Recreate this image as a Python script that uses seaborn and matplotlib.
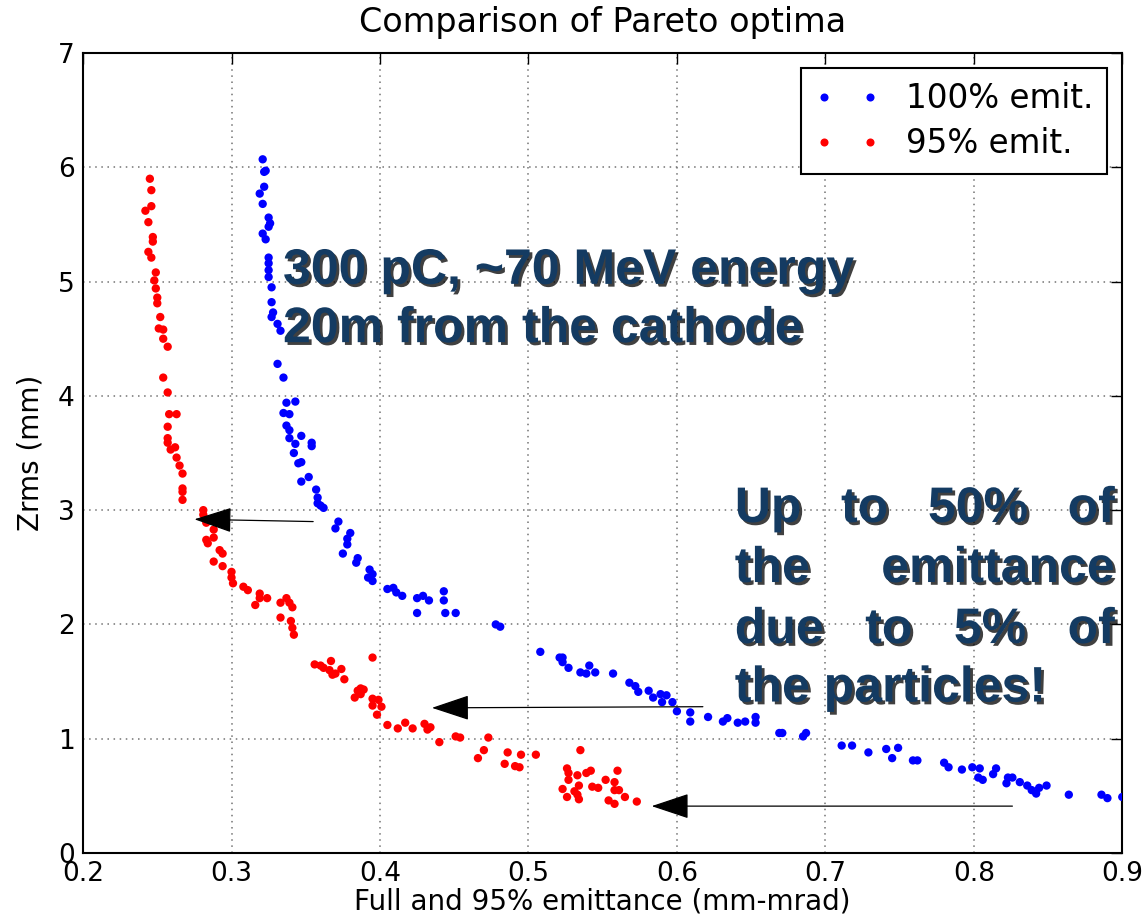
import matplotlib
matplotlib.use("Agg")
import matplotlib.pyplot as plt
import matplotlib.patheffects as pe
from matplotlib.lines import Line2D
import pandas as pd
import seaborn as sns

# Pareto front: full (100%) emittance vs bunch length
full_emit = [0.321, 0.322, 0.323, 0.322, 0.319, 0.321, 0.325, 0.326, 0.325, 0.321,
             0.323, 0.325, 0.325, 0.325, 0.325, 0.327, 0.327, 0.328, 0.327, 0.331,
             0.333, 0.331, 0.335, 0.337, 0.343, 0.335, 0.339, 0.337, 0.339, 0.339,
             0.347, 0.343, 0.354, 0.354, 0.342, 0.345, 0.347, 0.352, 0.347, 0.357,
             0.358, 0.358, 0.360, 0.362, 0.372, 0.370, 0.380, 0.378, 0.378, 0.375,
             0.385, 0.384, 0.393, 0.395, 0.392, 0.395, 0.405, 0.409, 0.411, 0.415,
             0.425, 0.429, 0.433, 0.443, 0.443, 0.425, 0.444, 0.451, 0.478, 0.481,
             0.508, 0.521, 0.523, 0.523, 0.527, 0.535, 0.539, 0.541, 0.545, 0.557,
             0.568, 0.572, 0.574, 0.581, 0.584, 0.589, 0.590, 0.593, 0.597, 0.600,
             0.609, 0.609, 0.621, 0.631, 0.634, 0.641, 0.646, 0.653, 0.653, 0.669,
             0.671, 0.685, 0.687, 0.711, 0.718, 0.729, 0.741, 0.749, 0.745, 0.759,
             0.762, 0.780, 0.783, 0.792, 0.799, 0.804, 0.803, 0.806, 0.813, 0.815,
             0.823, 0.826, 0.822, 0.831, 0.836, 0.839, 0.842, 0.844, 0.849, 0.864,
             0.886, 0.890, 0.900]
full_zrms = [6.07, 5.96, 5.97, 5.83, 5.77, 5.68, 5.56, 5.51, 5.48, 5.42,
             5.37, 5.21, 5.16, 5.10, 5.04, 4.95, 4.82, 4.73, 4.69, 4.63,
             4.57, 4.28, 4.16, 3.94, 3.95, 3.85, 3.84, 3.74, 3.70, 3.63,
             3.65, 3.58, 3.59, 3.56, 3.50, 3.41, 3.42, 3.29, 3.25, 3.18,
             3.11, 3.06, 3.04, 3.02, 2.90, 2.84, 2.80, 2.75, 2.70, 2.62,
             2.58, 2.54, 2.48, 2.44, 2.41, 2.38, 2.31, 2.32, 2.28, 2.25,
             2.23, 2.25, 2.21, 2.29, 2.21, 2.10, 2.10, 2.10, 2.00, 1.98,
             1.76, 1.71, 1.71, 1.67, 1.62, 1.58, 1.57, 1.64, 1.58, 1.57,
             1.49, 1.46, 1.41, 1.42, 1.36, 1.39, 1.32, 1.38, 1.32, 1.24,
             1.23, 1.15, 1.19, 1.15, 1.18, 1.14, 1.15, 1.19, 1.14, 1.05,
             1.05, 1.02, 1.05, 0.94, 0.94, 0.88, 0.91, 0.92, 0.83, 0.81,
             0.81, 0.79, 0.75, 0.73, 0.75, 0.74, 0.66, 0.64, 0.69, 0.74,
             0.66, 0.66, 0.61, 0.62, 0.59, 0.55, 0.52, 0.57, 0.59, 0.51,
             0.51, 0.48, 0.49]

# Pareto front: 95% emittance vs bunch length
core_emit = [0.245, 0.246, 0.246, 0.242, 0.244, 0.247, 0.247, 0.244, 0.246, 0.249,
             0.248, 0.249, 0.250, 0.250, 0.252, 0.251, 0.254, 0.254, 0.257, 0.254,
             0.257, 0.258, 0.263, 0.257, 0.257, 0.257, 0.262, 0.259, 0.263, 0.265,
             0.267, 0.267, 0.267, 0.267, 0.281, 0.281, 0.283, 0.288, 0.288, 0.283,
             0.284, 0.292, 0.294, 0.288, 0.294, 0.300, 0.300, 0.301, 0.308, 0.311,
             0.319, 0.319, 0.324, 0.316, 0.333, 0.337, 0.339, 0.341, 0.333, 0.340,
             0.341, 0.342, 0.356, 0.360, 0.367, 0.362, 0.366, 0.368, 0.370, 0.374,
             0.376, 0.385, 0.387, 0.389, 0.383, 0.387, 0.395, 0.395, 0.395, 0.399,
             0.401, 0.398, 0.405, 0.412, 0.417, 0.422, 0.430, 0.434, 0.432, 0.440,
             0.451, 0.454, 0.473, 0.470, 0.466, 0.486, 0.495, 0.505, 0.484, 0.491,
             0.494, 0.535, 0.526, 0.527, 0.533, 0.539, 0.542, 0.560, 0.527, 0.534,
             0.523, 0.531, 0.533, 0.526, 0.534, 0.543, 0.547, 0.552, 0.558, 0.558,
             0.561, 0.554, 0.558, 0.565, 0.573]
core_zrms = [5.90, 5.80, 5.66, 5.62, 5.52, 5.39, 5.35, 5.26, 5.21, 5.08,
             5.01, 4.94, 4.86, 4.81, 4.69, 4.59, 4.58, 4.50, 4.43, 4.16,
             4.03, 3.84, 3.84, 3.73, 3.63, 3.59, 3.55, 3.53, 3.46, 3.39,
             3.32, 3.19, 3.16, 3.09, 3.00, 2.96, 2.89, 2.83, 2.76, 2.74,
             2.71, 2.65, 2.62, 2.55, 2.51, 2.46, 2.41, 2.36, 2.33, 2.30,
             2.27, 2.23, 2.23, 2.17, 2.19, 2.23, 2.19, 2.15, 2.06, 2.03,
             1.97, 1.91, 1.65, 1.64, 1.68, 1.62, 1.60, 1.56, 1.57, 1.61,
             1.52, 1.42, 1.44, 1.43, 1.36, 1.39, 1.71, 1.35, 1.29, 1.34,
             1.28, 1.21, 1.12, 1.09, 1.14, 1.09, 1.13, 1.10, 1.08, 0.97,
             1.02, 1.01, 1.01, 0.90, 0.83, 0.88, 0.86, 0.86, 0.78, 0.76,
             0.75, 0.90, 0.74, 0.70, 0.68, 0.70, 0.72, 0.72, 0.64, 0.59,
             0.56, 0.54, 0.51, 0.49, 0.47, 0.58, 0.57, 0.64, 0.62, 0.55,
             0.55, 0.46, 0.43, 0.49, 0.45]

series_labels = ["100% emit.", "95% emit."]
series_colors = ["blue", "red"]
x_ticks = [0.2, 0.3, 0.4, 0.5, 0.6, 0.7, 0.8, 0.9]
y_ticks = [0, 1, 2, 3, 4, 5, 6, 7]

# Arrows (tail -> head) pointing from the full-emittance front to the 95% front
arrow_tails = [(0.355, 2.90), (0.6175, 1.28), (0.826, 0.41)]
arrow_heads = [(0.275, 2.92), (0.435, 1.27), (0.583, 0.41)]

note_top = ["300 pC, ~70 MeV energy", "20m from the cathode"]
note_side = [["Up", "to", "50%", "of"],
             ["the", "emittance"],
             ["due", "to", "5%", "of"],
             ["the particles!"]]

df = pd.concat([
    pd.DataFrame({"emit": full_emit, "zrms": full_zrms, "series": series_labels[0]}),
    pd.DataFrame({"emit": core_emit, "zrms": core_zrms, "series": series_labels[1]}),
], ignore_index=True)

sns.set_style("white")
plt.rcParams["font.family"] = ["DejaVu Sans"]
plt.rcParams["text.color"] = "black"
plt.rcParams["axes.labelcolor"] = "black"

fig = plt.figure(figsize=(11.44, 9.16), dpi=100)
ax = fig.add_axes([0.0726, 0.0688, 0.9084, 0.8733])

sns.scatterplot(data=df, x="emit", y="zrms", hue="series",
                palette=dict(zip(series_labels, series_colors)),
                s=36, linewidth=0, legend=False, ax=ax, zorder=3)

ax.set_xlim(0.2, 0.9)
ax.set_ylim(0, 7)
ax.set_xticks(x_ticks)
ax.set_xticklabels([f"{v:.1f}" for v in x_ticks])
ax.set_yticks(y_ticks)
ax.set_yticklabels([str(v) for v in y_ticks])
ax.tick_params(direction="in", top=True, right=True, length=8, width=1,
               labelsize=19, pad=6, colors="black")
for sp in ax.spines.values():
    sp.set_color("black")
    sp.set_linewidth(1.5)
ax.grid(True, color="0.45", linestyle=(0, (1, 3)), linewidth=1.1)
ax.set_axisbelow(True)

ax.set_title("Comparison of Pareto optima", fontsize=24, pad=15, color="black")
ax.set_xlabel("Full and 95% emittance (mm-mrad)", fontsize=20, labelpad=0)
ax.set_ylabel("Zrms (mm)", fontsize=20, labelpad=10)

handles = [Line2D([], [], marker="o", linestyle="", color=c, markersize=5.8,
                  markeredgewidth=0) for c in series_colors]
leg = ax.legend(handles, series_labels, loc="upper right", numpoints=2,
                fontsize=23.5, frameon=True, fancybox=False, framealpha=1,
                edgecolor="black", borderpad=0.42, labelspacing=0.38,
                handlelength=2.0, handletextpad=0.8, borderaxespad=0.47)
leg.get_frame().set_linewidth(1.5)
for t in leg.get_texts():
    t.set_color("black")

for (tx, ty), (hx, hy) in zip(arrow_tails, arrow_heads):
    ax.annotate("", xy=(hx, hy), xytext=(tx, ty),
                arrowprops=dict(arrowstyle="-|>,head_length=2.4,head_width=0.8",
                                mutation_scale=10, color="black", lw=0.9,
                                shrinkA=0, shrinkB=0), zorder=5)

note_style = dict(fontsize=36, fontweight="bold", family="Liberation Sans",
                  color="#143b62", zorder=6,
                  path_effects=[pe.withSimplePatchShadow(offset=(2, -2),
                                                         shadow_rgbFace="black",
                                                         alpha=0.75)])

ax.text(0.3347, 4.98, note_top[0], ha="left", va="baseline", **note_style)
ax.text(0.3347, 4.47, note_top[1], ha="left", va="baseline", **note_style)

# Justified block on the right: words spread to fill the column width
side_left, side_right = 0.639, 0.895
side_baselines = [2.896, 2.371, 1.837, 1.325]
fig.canvas.draw()
renderer = fig.canvas.get_renderer()
px_left = ax.transData.transform((side_left, 0))[0]
px_right = ax.transData.transform((side_right, 0))[0]
inv = ax.transData.inverted()
for words, yb in zip(note_side, side_baselines):
    texts = [ax.text(side_left, yb, w, ha="left", va="baseline", **note_style)
             for w in words]
    if len(words) == 1:
        continue
    widths = [t.get_window_extent(renderer).width for t in texts]
    gap = (px_right - px_left - sum(widths)) / (len(words) - 1)
    cursor = px_left
    for t, w in zip(texts, widths):
        t.set_x(inv.transform((cursor, 0))[0])
        cursor += w + gap

fig.savefig("out.png", dpi=100)
